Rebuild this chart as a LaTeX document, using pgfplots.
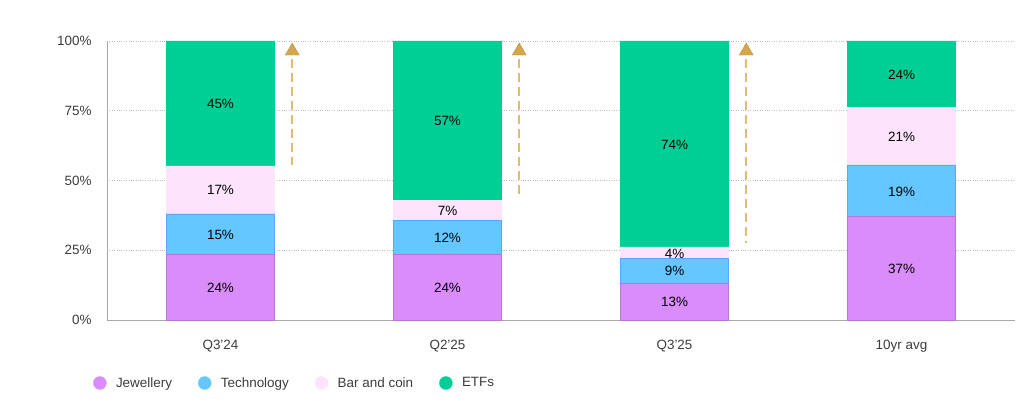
\documentclass[border=0pt]{standalone}
\usepackage{pgfplots}
\pgfplotsset{compat=1.18}
\usepackage{pgfplotstable}
\usepackage{fontspec}
\setmainfont{Liberation Sans}
\definecolor{jew}{RGB}{218,140,250}
\definecolor{tech}{RGB}{102,198,255}
\definecolor{barc}{RGB}{253,227,252}
\definecolor{etf}{RGB}{0,207,149}
\definecolor{arrowtri}{RGB}{212,168,74}
\definecolor{arrowdash}{RGB}{222,188,112}
\definecolor{gridc}{RGB}{190,190,190}
\definecolor{axc}{RGB}{170,170,170}
\definecolor{tickc}{RGB}{60,60,60}

% stacked segment values (x = category index)
\pgfplotstableread{
x y
0 23.7
1 23.7
2 13.3
3 37.3
}\jewtab
\pgfplotstableread{
x y
0 14.4
1 12.1
2 8.9
3 18.3
}\techtab
\pgfplotstableread{
x y
0 17.1
1 7.2
2 4.0
3 20.7
}\bartab
\pgfplotstableread{
x y
0 44.8
1 57.0
2 73.8
3 23.7
}\etftab
% label positions (segment centres) and label text
\pgfplotstableread{
x y lab
0 11.6 24
1 11.6 24
2 6.5 13
3 18.4 37
0 30.6 15
1 29.5 12
2 17.6 9
3 46.0 19
0 46.5 17
1 39.1 7
2 23.6 4
3 65.6 21
0 77.3 45
1 71.2 57
2 62.8 74
3 87.7 24
}\labtab

\begin{document}
\begin{tikzpicture}
\useasboundingbox (-107bp,-79bp) rectangle (913bp,320bp);
\begin{axis}[
  at={(0,0)}, anchor=south west,
  scale only axis,
  width=908bp, height=279bp,
  xmin=-0.5, xmax=3.5, ymin=0, ymax=100,
  ybar stacked, bar width=108bp,
  axis x line*=bottom, axis y line*=left,
  axis line style={axc, line width=0.8pt},
  xtick={0,1,2,3},
  xticklabels={Q3'24, Q2'25, Q3'25, 10yr avg},
  ytick={0,25,50,75,100},
  yticklabel={\pgfmathprintnumber{\tick}\%},
  /pgf/number format/assume math mode=true,
  major tick length=0pt,
  ymajorgrids,
  grid style={gridc, dotted, line width=0.8pt},
  tick label style={font=\fontsize{13.5}{15}\selectfont, text=tickc},
  xticklabel style={yshift=-17bp},
  yticklabel style={xshift=-12bp},
  legend style={draw=none, fill=none, at={(-0.0154,-0.2258)}, anchor=west,
    legend columns=-1, inner sep=0pt,
    font=\fontsize{13.5}{15}\selectfont, text=tickc,
    nodes={inner sep=0pt},
    /tikz/every odd column/.style={column sep=9.5bp},
    /tikz/every even column/.style={column sep=26bp}},
  clip=false,
]
\addplot[fill=jew, draw=jew!85!black, line width=0.3pt,
  legend image code/.code={\fill[jew] (6bp,0) circle (6.5bp);}] table[x=x,y=y] {\jewtab};
\addlegendentry{Jewellery}
\addplot[fill=tech, draw=tech!85!blue, line width=0.3pt,
  legend image code/.code={\fill[tech] (6bp,0) circle (6.5bp);}] table[x=x,y=y] {\techtab};
\addlegendentry{Technology}
\addplot[fill=barc, draw=barc, line width=0.3pt,
  legend image code/.code={\fill[barc] (6bp,0) circle (6.5bp);}] table[x=x,y=y] {\bartab};
\addlegendentry{Bar and coin}
\addplot[fill=etf, draw=etf, line width=0.3pt,
  legend image code/.code={\fill[etf] (6bp,0) circle (6.5bp);}] table[x=x,y=y] {\etftab};
\addlegendentry{ETFs}
\end{axis}

\begin{axis}[
  at={(0,0)}, anchor=south west,
  scale only axis,
  width=908bp, height=279bp,
  xmin=-0.5, xmax=3.5, ymin=0, ymax=100,
  axis lines=none, clip=false,
]
% arrows
\addplot[arrowdash, line width=2.2bp, dash pattern=on 9bp off 5bp, no marks] coordinates {(0.316,93.4) (0.316,55.4)};
\addplot[arrowdash, line width=2.2bp, dash pattern=on 9bp off 5bp, no marks] coordinates {(1.316,93.4) (1.316,43.4)};
\addplot[arrowdash, line width=2.2bp, dash pattern=on 9bp off 5bp, no marks] coordinates {(2.316,93.4) (2.316,27.6)};
\addplot[only marks, mark=triangle*, mark size=8bp,
  mark options={fill=arrowtri, draw=arrowtri!85!black, line width=0.4pt}]
  coordinates {(0.316,96.4) (1.316,96.4) (2.316,96.4)};
% segment labels
\addplot[draw=none, no marks, nodes near coords={\pgfplotspointmeta\%},
  point meta=explicit symbolic,
  every node near coord/.style={anchor=center, font=\fontsize{13.5}{15}\selectfont, text=black}]
  table[x=x, y=y, meta=lab] {\labtab};
\end{axis}
\end{tikzpicture}
\end{document}
